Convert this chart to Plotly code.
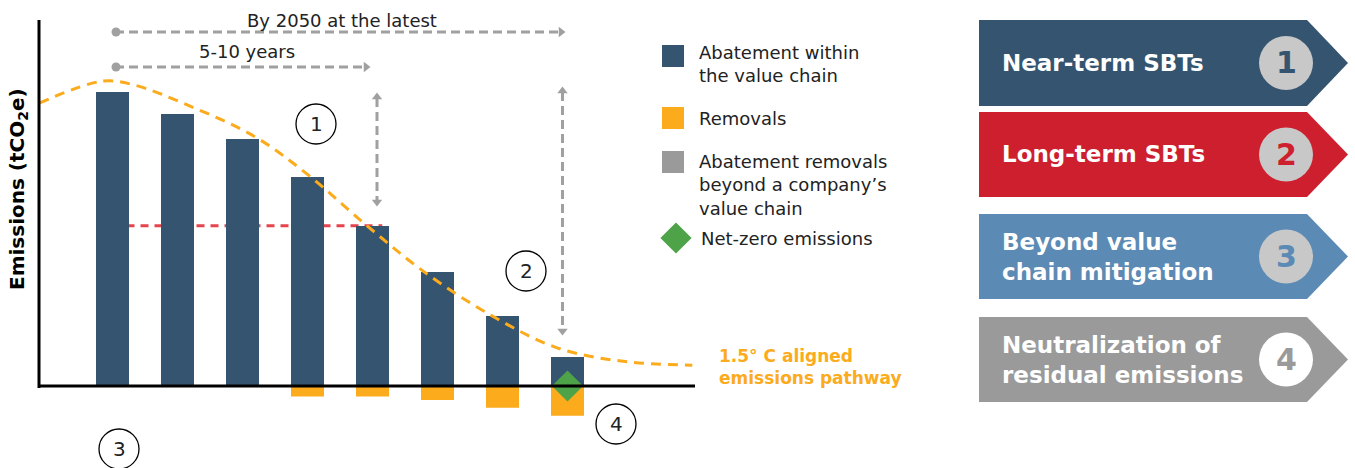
import plotly.graph_objects as go

W, H = 1355, 468

# ---------------- data ----------------
periods = [0, 1, 2, 3, 4, 5, 6, 7]
abatement = [100, 92.5, 84.0, 71.1, 54.4, 38.8, 23.8, 9.9]
removals = [0, 0, 0, -3.6, -3.6, -4.8, -7.4, -10.1]
netzero_period = [7]
netzero_value = [0]
pathway_x = [-1.13, -0.15, 0.33, 1.15, 2.19, 3.01, 3.90, 4.79, 5.82, 6.85, 7.89, 8.92]
pathway_y = [96.2, 103.7, 102.4, 95.6, 84.8, 71.8, 54.8, 38.9, 24.1, 12.9, 8.3, 7.1]
near_term_period = 4          # bar marking the near-term target level

legend_labels = ["Abatement within<br>the value chain", "Removals",
                 "Abatement removals<br>beyond a company\u2019s<br>value chain",
                 "Net-zero emissions"]
panel_labels = ["Near-term SBTs", "Long-term SBTs",
                "Beyond value<br>chain mitigation",
                "Neutralization of<br>residual emissions"]
panel_numbers = ["1", "2", "3", "4"]

# ---------------- styles ----------------
NAVY = "#34546F"
ORANGE = "#FBAB1C"
GRAY = "#9A9A9A"
GREEN = "#4EA248"
RED = "#CD1F2E"
BLUE = "#5B8AB5"
ARROW = "#A0A0A0"
FONT = "DejaVu Sans"

# pixel <-> axis mapping (layout only)
X0, DX = 112.5, 65.0
Y0, DY = 386.0, 2.94


def ax(px):
    return (px - X0) / DX


def ay(py):
    return (Y0 - py) / DY


def pxp(px):
    return px / W


def pyp(py):
    return 1 - py / H


fig = go.Figure()

# bars
fig.add_trace(go.Bar(x=periods, y=abatement, width=33 / DX, marker_color=NAVY,
                     marker_line_width=0, name="Abatement within the value chain"))
fig.add_trace(go.Bar(x=periods, y=removals, width=33 / DX, marker_color=ORANGE,
                     marker_line_width=0, name="Removals"))

# pathway
fig.add_trace(go.Scatter(x=pathway_x, y=pathway_y, mode="lines",
                         line=dict(color=ORANGE, width=3, dash="10px,7px", shape="spline", smoothing=1.0),
                         name="1.5\u00b0 C aligned emissions pathway"))

# net zero diamond
fig.add_trace(go.Scatter(x=netzero_period, y=netzero_value, mode="markers",
                         marker=dict(symbol="diamond", size=24, color=GREEN, line_width=0),
                         name="Net-zero emissions"))

shapes = []
annos = []

# near-term level red dashed line (behind bars)
shapes.append(dict(type="line", xref="x", yref="y", layer="below",
                   x0=periods[0], x1=periods[near_term_period] + 0.15,
                   y0=abatement[near_term_period] + 0.1, y1=abatement[near_term_period] + 0.1,
                   line=dict(color="#E5444D", width=3, dash="8px,6px")))

# axes lines
shapes.append(dict(type="line", xref="x", yref="y", x0=ax(39), x1=ax(39), y0=ay(388), y1=ay(20),
                   line=dict(color="black", width=3), layer="above"))
shapes.append(dict(type="line", xref="x", yref="y", x0=ax(38), x1=ax(695), y0=0, y1=0,
                   line=dict(color="black", width=3), layer="above"))


# dashed arrows
def dline(x0, y0, x1, y1):
    shapes.append(dict(type="line", xref="x", yref="y", x0=ax(x0), x1=ax(x1), y0=ay(y0), y1=ay(y1),
                       line=dict(color=ARROW, width=3, dash="9px,5px"), layer="above"))


dline(115, 32, 560, 32)
dline(115, 67, 366, 67)
dline(377, 98, 377, 201)
dline(562.5, 92, 562.5, 330)

mx, my, ms = [], [], []
for (x, y, s) in [(561, 32, "triangle-right"), (366, 67, "triangle-right"),
                  (377, 97, "triangle-up"), (377, 202, "triangle-down"),
                  (562.5, 91, "triangle-up"), (562.5, 331, "triangle-down")]:
    mx.append(ax(x)); my.append(ay(y)); ms.append(s)
fig.add_trace(go.Scatter(x=mx, y=my, mode="markers",
                         marker=dict(symbol=ms, size=9, color=ARROW, line_width=0), hoverinfo="skip"))
fig.add_trace(go.Scatter(x=[ax(116), ax(116)], y=[ay(32), ay(67)], mode="markers",
                         marker=dict(symbol="circle", size=9, color=ARROW, line_width=0), hoverinfo="skip"))

annos.append(dict(x=ax(342), y=ay(20), text="By 2050 at the latest", showarrow=False,
                  xanchor="center", yanchor="middle",
                  font=dict(family=FONT, size=18, color="#222222")))
annos.append(dict(x=ax(247), y=ay(51), text="5-10 years", showarrow=False,
                  xanchor="center", yanchor="middle",
                  font=dict(family=FONT, size=18, color="#222222")))

# circled numbers
for (cx, cy, t) in [(316, 124, "1"), (526, 271, "2"), (119, 449, "3"), (616, 424, "4")]:
    shapes.append(dict(type="circle", xref="x", yref="y", x0=ax(cx - 20), x1=ax(cx + 20),
                       y0=ay(cy + 20), y1=ay(cy - 20), line=dict(color="black", width=1.3)))
    annos.append(dict(x=ax(cx), y=ay(cy), text=t, showarrow=False, xanchor="center", yanchor="middle",
                      font=dict(family=FONT, size=20, color="#222222")))

# pathway label
annos.append(dict(x=ax(717), y=ay(366.5), xanchor="left", yanchor="middle", align="left",
                  text="1.5\u00b0 C aligned<br>emissions pathway", showarrow=False,
                  font=dict(family=FONT, size=17, color=ORANGE, weight=700)))

# y axis title
annos.append(dict(x=ax(18), y=ay(189), text="Emissions (tCO<sub>2</sub>e)", textangle=-90,
                  showarrow=False, xanchor="center", yanchor="middle",
                  font=dict(family=FONT, size=20, color="black", weight=700)))

# legend
for (y0, y1, c) in [(45, 67, NAVY), (107, 129, ORANGE), (151, 173, GRAY)]:
    shapes.append(dict(type="rect", xref="x", yref="y", x0=ax(662), x1=ax(684), y0=ay(y1), y1=ay(y0),
                       fillcolor=c, line_width=0))
fig.add_trace(go.Scatter(x=[ax(676)], y=[ay(238)], mode="markers",
                         marker=dict(symbol="diamond", size=24, color=GREEN, line_width=0), hoverinfo="skip"))
for (xl, yc, t) in [(697, 64, legend_labels[0]), (697, 118, legend_labels[1]),
                    (697, 184.5, legend_labels[2]), (699, 238, legend_labels[3])]:
    annos.append(dict(x=ax(xl), y=ay(yc), xanchor="left", yanchor="middle", align="left", text=t,
                      showarrow=False, font=dict(family=FONT, size=18, color="#222222")))

# right panel
panel_colors = [NAVY, RED, BLUE, GRAY]
circle_fill = ["#C8C8C8", "#C8C8C8", "#C8C8C8", "white"]
panel_tops = [20, 112, 214, 317]
panel_bottoms = [106, 197, 299, 402]
for i in range(4):
    t, b = panel_tops[i], panel_bottoms[i]
    m = (t + b) / 2
    path = (f"M {pxp(979)},{pyp(t)} L {pxp(1307)},{pyp(t)} L {pxp(1348)},{pyp(m)} "
            f"L {pxp(1307)},{pyp(b)} L {pxp(979)},{pyp(b)} Z")
    shapes.append(dict(type="path", xref="paper", yref="paper", path=path,
                       fillcolor=panel_colors[i], line_width=0))
    shapes.append(dict(type="circle", xref="paper", yref="paper", x0=pxp(1286 - 27), x1=pxp(1286 + 27),
                       y0=pyp(m + 27), y1=pyp(m - 27), fillcolor=circle_fill[i], line_width=0))
    annos.append(dict(xref="paper", yref="paper", x=pxp(1286), y=pyp(m), text=panel_numbers[i],
                      xanchor="center", yanchor="middle", showarrow=False,
                      font=dict(family=FONT, size=30, color=panel_colors[i], weight=700)))
    annos.append(dict(xref="paper", yref="paper", x=pxp(1000), y=pyp(m), xanchor="left", yanchor="middle",
                      align="left", text=panel_labels[i], showarrow=False,
                      font=dict(family=FONT, size=23, color="white", weight=700)))

fig.update_layout(
    width=W, height=H, margin=dict(l=0, r=0, t=0, b=0),
    paper_bgcolor="white", plot_bgcolor="white",
    barmode="relative", showlegend=False,
    shapes=shapes, annotations=annos,
    xaxis=dict(range=[ax(0), ax(W)], domain=[0, 1], visible=False, fixedrange=True),
    yaxis=dict(range=[ay(H), ay(0)], domain=[0, 1], visible=False, fixedrange=True),
)

fig.write_html("out.html")
